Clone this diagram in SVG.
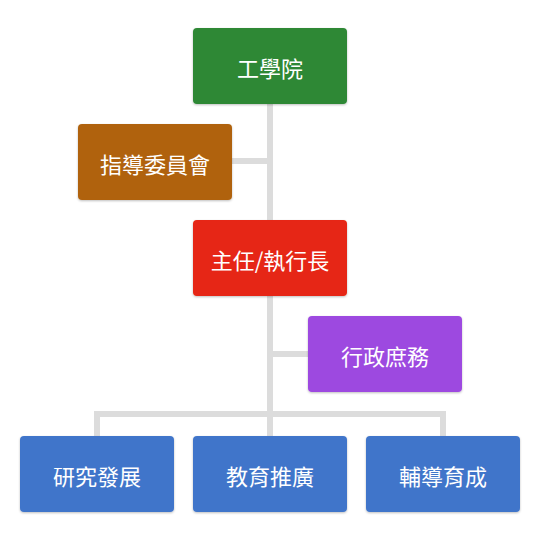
<svg xmlns="http://www.w3.org/2000/svg" width="540" height="540" viewBox="0 0 540 540">
<defs>
<filter id="sh" x="-10%" y="-10%" width="120%" height="130%">
<feDropShadow dx="0" dy="1" stdDeviation="1.2" flood-color="#000" flood-opacity="0.25"/>
</filter>
</defs>
<style>
.box{filter:url(#sh);}
.lbl{font-family:"Noto Sans CJK TC","Noto Sans CJK SC",sans-serif;font-size:22px;fill:#fff;text-anchor:middle;dominant-baseline:central;}
.ln{stroke:#dcdcdc;stroke-width:6;fill:none;}
</style>
<rect width="540" height="540" fill="#fff"/>
<g id="connectors">
<line class="ln" x1="270" y1="104" x2="270" y2="436"/>
<line class="ln" x1="232" y1="161" x2="270" y2="161"/>
<line class="ln" x1="270" y1="354" x2="308" y2="354"/>
<polyline class="ln" points="97,436 97,414 443,414 443,436"/>
</g>
<g id="n1"><rect class="box" x="193" y="28" width="154" height="76" rx="4" fill="#2e8835"/><text class="lbl" x="270" y="67">工學院</text></g>
<g id="n2"><rect class="box" x="78" y="124" width="154" height="76" rx="4" fill="#b0620a"/><text class="lbl" x="155" y="163">指導委員會</text></g>
<g id="n3"><rect class="box" x="193" y="220" width="154" height="76" rx="4" fill="#e62612"/><text class="lbl" x="270" y="259">主任/執行長</text></g>
<g id="n4"><rect class="box" x="308" y="316" width="154" height="76" rx="4" fill="#9d48e0"/><text class="lbl" x="385" y="355">行政庶務</text></g>
<g id="n5"><rect class="box" x="20" y="436" width="154" height="76" rx="4" fill="#4075ca"/><text class="lbl" x="97" y="475">研究發展</text></g>
<g id="n6"><rect class="box" x="193" y="436" width="154" height="76" rx="4" fill="#4075ca"/><text class="lbl" x="270" y="475">教育推廣</text></g>
<g id="n7"><rect class="box" x="366" y="436" width="154" height="76" rx="4" fill="#4075ca"/><text class="lbl" x="443" y="475">輔導育成</text></g>
</svg>
